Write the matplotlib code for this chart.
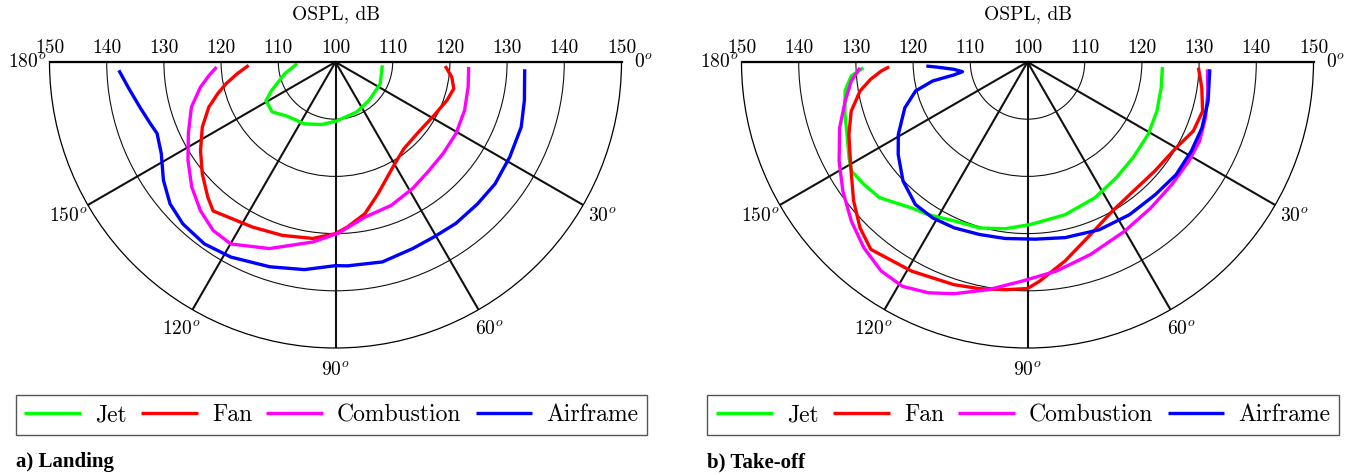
import numpy as np
import matplotlib
matplotlib.use("Agg")
import matplotlib.pyplot as plt

plt.rcParams['font.family'] = 'cmr10'
plt.rcParams['mathtext.fontset'] = 'cm'
plt.rcParams['axes.formatter.use_mathtext'] = True

# directivity data, angle in degrees (0 = front, 90 = below), OSPL in dB
# landing
land_jet_theta = [4, 26, 48.6, 67, 88.7, 102.5, 116.8, 131.8, 141.8, 151, 156, 167, 177.5]
land_jet_spl = [108.2, 108.7, 108.9, 109.5, 110.3, 111.2, 112.1, 112.7, 114.1, 113.9, 112.2, 109.1, 106.7]

land_fan_theta = [2.1, 7.4, 12.7, 19, 28.4, 39.9, 51.7, 61.2, 72.1, 79, 85.8, 90, 97.3, 107, 116.7,
                  129.4, 133.4, 140, 146.8, 154, 160.4, 165, 168.8, 173.2, 177.8]
land_fan_spl = [119.2, 120.5, 121.2, 120.6, 119.6, 119.0, 119.3, 120.9, 124.2, 127.0, 128.9, 130.0, 131.1, 131.7, 132.3,
                133.7, 132.5, 130.4, 128.2, 125.9, 123.5, 121.3, 119.5, 117.3, 115.2]

land_comb_theta = [2.1, 10.7, 20.5, 30.7, 40.4, 50, 58.6, 68.8, 79.2, 88.9, 97.1, 109.5, 119.9, 126,
                   132.3, 139, 146.3, 154.1, 162.6, 169.5, 174, 177.6]
land_comb_spl = [123.3, 123.6, 124.1, 124.5, 124.7, 125.1, 125.9, 126.9, 127.6, 129.9, 131.7, 134.6, 136.7, 136.4,
                 135.1, 133.3, 131.0, 128.6, 126.4, 124.0, 122.2, 120.8]

land_air_theta = [2.2, 11.5, 19.3, 28.6, 37.4, 45, 53.3, 60.6, 67.5, 76.8, 86.6, 90, 98.5, 107.8, 118.2,
                  125.8, 133.3, 139.4, 145.5, 152.3, 158.2, 161.5, 167, 172.6, 177.8]
land_air_spl = [133.1, 133.7, 134.4, 134.7, 135.1, 135.1, 135.2, 135.1, 135.3, 135.9, 135.7, 135.6, 136.7, 137.6, 138.7,
                139.2, 138.9, 138.1, 136.5, 134.4, 133.6, 134.1, 135.1, 136.4, 137.9]

# take-off
to_jet_theta = [2.1, 10.9, 20.8, 30.9, 42.1, 52.5, 63.5, 76.2, 88.8, 97.6, 106.1, 114.8, 122.9, 128.5,
                137.5, 143.1, 148.2, 151.8, 158.1, 164, 171, 175.5, 178]
to_jet_spl = [123.6, 123.8, 124.2, 124.6, 124.9, 125.5, 126.5, 127.5, 128.4, 129.4, 130.2, 130.6, 131.8, 132.6,
              135.1, 135.7, 136.2, 135.4, 134.0, 133.2, 132.3, 130.9, 128.7]

to_fan_theta = [1.9, 8.4, 15.7, 22.6, 30, 40.6, 50.7, 60.4, 69.9, 79.3, 86.9, 90, 95.6, 101.9, 108.3, 119,
                129.9, 135.3, 141.4, 149.1, 157.9, 164.4, 170.2, 173.7, 176.5, 178]
to_fan_spl = [129.9, 130.8, 131.8, 131.4, 130.0, 129.3, 129.2, 130.0, 132.1, 135.4, 138.4, 139.6, 140.0, 140.5, 141.0, 141.8,
              142.7, 141.2, 138.9, 136.0, 133.7, 132.0, 129.7, 127.6, 125.6, 124.2]

to_comb_theta = [2.3, 10.1, 17.3, 24.6, 31.5, 40.2, 49.8, 60.1, 71.8, 82.1, 91.3, 99.8, 107.6, 113.2,
                 119.1, 125, 131.3, 137.9, 145, 152.3, 160.7, 167.9, 173.8, 178]
to_comb_spl = [131.5, 132.0, 132.6, 133.1, 133.1, 133.1, 133.4, 134.1, 135.4, 136.9, 138.3, 140.4, 142.5, 143.9,
               144.9, 144.6, 143.3, 141.5, 139.4, 137.2, 134.8, 132.6, 131.0, 129.3]

to_air_theta = [2.3, 12.2, 20.7, 28.6, 37.2, 46.1, 56.3, 66.8, 77.9, 87.5, 97.2, 105.5, 113.9, 121.3, 128.2,
                136.3, 144.4, 150.7, 159.5, 165.5, 168.7, 170, 171.5, 174.3, 176.8, 177.7]
to_air_spl = [131.9, 132.3, 132.6, 132.6, 132.6, 132.2, 132.1, 131.9, 131.4, 131.0, 131.1, 131.3, 131.7, 131.9, 131.7,
              130.1, 127.8, 125.9, 122.9, 120.2, 116.9, 113.1, 111.5, 112.9, 115.9, 117.7]

names = ['Jet', 'Fan', 'Combustion', 'Airframe']
colors = ['#00ff00', '#ff0000', '#ff00ff', '#0000ff']
spokes = [0, 30, 60, 90, 120, 150, 180]
rings = [110, 120, 130, 140]
ring_labels = [150, 140, 130, 120, 110, 100, 110, 120, 130, 140, 150]

landing = [(land_jet_theta, land_jet_spl), (land_fan_theta, land_fan_spl),
           (land_comb_theta, land_comb_spl), (land_air_theta, land_air_spl)]
takeoff = [(to_jet_theta, to_jet_spl), (to_fan_theta, to_fan_spl),
           (to_comb_theta, to_comb_spl), (to_air_theta, to_air_spl)]

W, H = 1350, 475
R = 286  # outer radius in pixels
fig = plt.figure(figsize=(W / 100, H / 100), dpi=100)


def half_polar(x0, data, caption):
    # the half disc sits in a square box, centre of the circle R/2 below its top
    top = 62 - R / 2
    ax = fig.add_axes([x0 / W, (H - top - 2 * R) / H, 2 * R / W, 2 * R / H], projection='polar')
    ax.set_thetamin(0)
    ax.set_thetamax(180)
    ax.set_theta_direction(-1)
    ax.set_rlim(100, 150)
    ax.set_rgrids(rings, labels=[''] * len(rings))
    ax.set_thetagrids(spokes, labels=[r'$%d^o$' % a for a in spokes], fontsize=14)
    ax.tick_params(axis='x', pad=9, length=0)
    ax.tick_params(axis='y', length=0)
    ax.xaxis.grid(True, color='#111111', lw=1.5)
    ax.yaxis.grid(True, color='#111111', lw=0.8)
    ax.spines['polar'].set_linewidth(0.9)
    ax.spines['start'].set_linewidth(1.6)
    ax.spines['end'].set_linewidth(1.6)

    lines = []
    for (th, spl), c, n in zip(data, colors, names):
        l, = ax.plot(np.deg2rad(th), spl, color=c, lw=2.4, label=n,
                     solid_capstyle='butt', solid_joinstyle='round')
        lines.append(l)

    # OSPL scale along the top edge
    for i, v in enumerate(ring_labels):
        th = np.pi if i < 5 else 0.0
        ax.annotate(str(v), xy=(th, v), xytext=(0, 6.5), textcoords='offset points',
                    ha='center', va='baseline', fontsize=14, annotation_clip=False)
    ax.annotate('OSPL, dB', xy=(0, 100), xytext=(0, 31), textcoords='offset points',
                ha='center', va='baseline', fontsize=14, annotation_clip=False)

    fig.legend(handles=lines, loc='lower left', ncol=4, mode='expand',
               bbox_to_anchor=((x0 - 34) / W, 40 / H, 632 / W, 39 / H),
               fontsize=17, handlelength=2.4, handletextpad=0.6, borderpad=0.38,
               borderaxespad=0, fancybox=False, edgecolor='#555555', framealpha=1)
    fig.text((x0 - 34) / W, 8 / H, caption, fontsize=15, fontweight='bold',
             family='Liberation Serif', ha='left', va='baseline')
    return ax


half_polar(49.5, landing, 'a) Landing')
half_polar(741.5, takeoff, 'b) Take-off')

fig.savefig('out.png', dpi=100)
